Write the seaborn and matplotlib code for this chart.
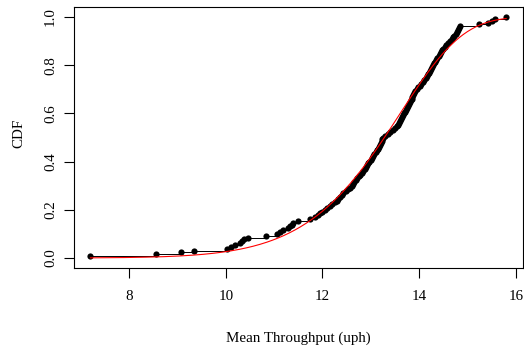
import numpy as np
import pandas as pd
import matplotlib
matplotlib.use("Agg")
import matplotlib.pyplot as plt
import seaborn as sns

# Mean throughput values (uph) read from the empirical CDF, sorted
throughput = [
    7.20, 8.55, 9.08, 9.34, 10.02, 10.10, 10.20, 10.29, 10.33, 10.37,
    10.46, 10.84, 11.05, 11.12, 11.19, 11.28, 11.33, 11.37, 11.40, 11.50,
    11.74, 11.84, 11.90, 11.95, 12.00, 12.05, 12.09, 12.15, 12.20, 12.26,
    12.30, 12.33, 12.37, 12.40, 12.43, 12.48, 12.53, 12.57, 12.60, 12.63,
    12.66, 12.69, 12.72, 12.75, 12.78, 12.81, 12.84, 12.87, 12.90, 12.92,
    12.95, 12.97, 13.00, 13.02, 13.05, 13.07, 13.10, 13.12, 13.14, 13.16,
    13.18, 13.20, 13.22, 13.24, 13.26, 13.30, 13.35, 13.40, 13.45, 13.50,
    13.54, 13.57, 13.59, 13.61, 13.63, 13.65, 13.67, 13.69, 13.71, 13.72,
    13.74, 13.76, 13.78, 13.80, 13.82, 13.84, 13.86, 13.88, 13.90, 13.92,
    13.95, 13.98, 14.01, 14.04, 14.07, 14.10, 14.13, 14.16, 14.18, 14.21,
    14.23, 14.25, 14.27, 14.29, 14.31, 14.33, 14.35, 14.37, 14.40, 14.42,
    14.45, 14.47, 14.50, 14.53, 14.56, 14.59, 14.63, 14.67, 14.70, 14.72,
    14.75, 14.78, 14.80, 14.82, 14.85, 15.23, 15.43, 15.50, 15.57, 15.80,
]

# Fitted Weibull distribution (red curve)
weibull_shape = 11.5
weibull_scale = 13.71

x_ticks = [8, 10, 12, 14, 16]
y_ticks = [0.0, 0.2, 0.4, 0.6, 0.8, 1.0]
y_tick_labels = ["0.0", "0.2", "0.4", "0.6", "0.8", "1.0"]
x_label = "Mean Throughput (uph)"
y_label = "CDF"

sns.set_theme(style="white")
plt.rcParams["font.family"] = ["Liberation Serif", "DejaVu Serif"]

x = np.sort(np.asarray(throughput))
n = len(x)
df = pd.DataFrame({"x": x, "F": np.arange(1, n + 1) / n})

xs = np.linspace(x.min(), x.max(), 300)
fit = pd.DataFrame({"x": xs,
                    "F": 1 - np.exp(-(xs / weibull_scale) ** weibull_shape)})

fig = plt.figure(figsize=(5.24, 3.49), dpi=100)
ax = fig.add_axes([0.1406, 0.2332, 0.8574, 0.7456])

sns.lineplot(data=df, x="x", y="F", drawstyle="steps-post", color="black",
             linewidth=0.7, estimator=None, sort=False, ax=ax, zorder=2)
sns.scatterplot(data=df, x="x", y="F", color="black", s=20, linewidth=0,
                ax=ax, zorder=3)
sns.lineplot(data=fit, x="x", y="F", color="red", linewidth=0.8,
             estimator=None, sort=False, ax=ax, zorder=4)

rng = x.max() - x.min()
ax.set_xlim(x.min() - 0.04 * rng, x.max() + 0.04 * rng)
ax.set_ylim(-0.04, 1.04)

ax.set_xticks(x_ticks)
ax.set_xticklabels([str(t) for t in x_ticks])
ax.set_yticks(y_ticks)
ax.set_yticklabels(y_tick_labels, rotation=90, va="center")

ax.tick_params(axis="both", which="major", direction="out", length=7,
               width=0.8, color="black", labelsize=10.8, labelcolor="black",
               bottom=True, left=True)
ax.tick_params(axis="x", pad=9)
ax.tick_params(axis="y", pad=5)

for sp in ax.spines.values():
    sp.set_visible(True)
    sp.set_color("black")
    sp.set_linewidth(0.8)

ax.set_xlabel(x_label, fontsize=10.8, color="black")
ax.set_ylabel(y_label, fontsize=10.8, color="black")
ax.xaxis.label.set_va("center")
ax.yaxis.label.set_va("center")
ax.xaxis.set_label_coords(0.5, -0.27)
ax.yaxis.set_label_coords(-0.122, 0.515)
ax.grid(False)

fig.savefig("out.png", dpi=100, facecolor="white")
